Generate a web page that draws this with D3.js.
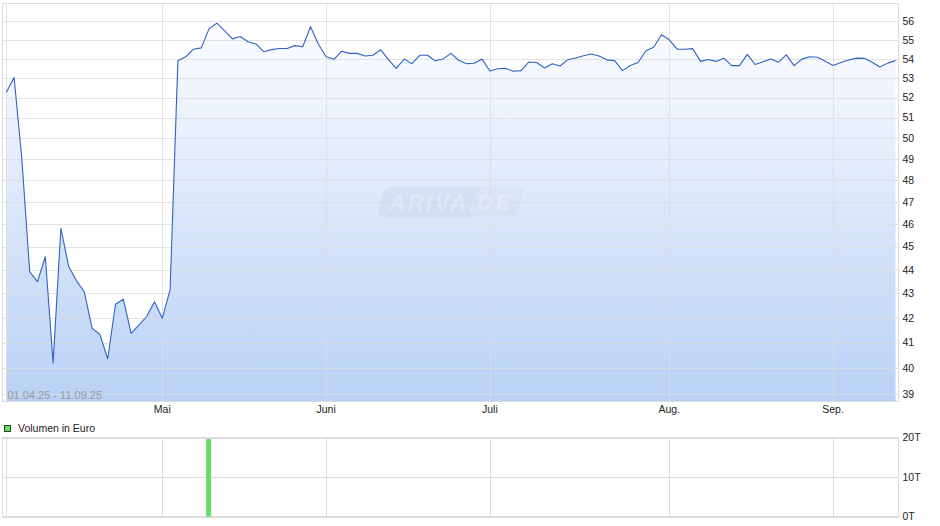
<!DOCTYPE html>
<html>
<head>
<meta charset="utf-8">
<script src="https://cdn.jsdelivr.net/npm/d3@7"></script>
<style>
  html, body { margin: 0; padding: 0; background: #fff; }
  svg { display: block; font-family: "Liberation Sans", Arial, sans-serif; }
</style>
</head>
<body>
<svg id="chart" width="940" height="526"></svg>
<script>
// ---- data (trading days 01.04.25 – 11.09.25) ----
const prices = [
  52.26, 53.02, 48.97, 43.91, 43.5, 44.56, 40.2, 45.81, 44.14, 43.53, 43.07, 41.57, 41.33, 40.36, 42.55, 42.76, 41.37, 41.7, 42.05, 42.66, 41.98, 43.15,
  53.9, 54.1, 54.5, 54.57, 55.6, 55.9, 55.48, 55.05, 55.18, 54.9, 54.78, 54.37, 54.48, 54.54, 54.54, 54.69, 54.63, 55.7, 54.78, 54.1,
  53.97, 54.39, 54.28, 54.28, 54.14, 54.18, 54.47, 53.95, 53.5, 53.98, 53.74, 54.18, 54.18, 53.89, 53.99, 54.28, 53.92, 53.74, 53.76, 53.98,
  53.36, 53.48, 53.5, 53.35, 53.38, 53.83, 53.8, 53.52, 53.74, 53.62, 53.95, 54.04, 54.16, 54.25, 54.14, 53.94, 53.9, 53.38, 53.65, 53.8, 54.42, 54.6, 55.27,
  55.0, 54.5, 54.5, 54.53, 53.86, 53.96, 53.86, 54.03, 53.64, 53.64, 54.23, 53.7, 53.84, 53.98, 53.82, 54.2, 53.64, 53.98, 54.1, 54.08, 53.87, 53.65, 53.8, 53.93, 54.03, 54.02, 53.82, 53.57, 53.77, 53.9
];
const monthLabels = ["", "Mai", "Juni", "Juli", "Aug.", "Sep."];
const monthStartIndex = [0, 20, 41, 62, 85, 106];
const priceTicks = [39, 40, 41, 42, 43, 44, 45, 46, 47, 48, 49, 50, 51, 52, 53, 54, 55, 56];
const volumeDayIndex = [26];
const volumeAmount = [19600];
const volumeTicks = [0, 10000, 20000];
const volumeTickLabels = ["0T", "10T", "20T"];
const rangeLabel = "01.04.25 - 11.09.25";
const legendLabel = "Volumen in Euro";

// ---- layout ----
const svg = d3.select("#chart");
const frame = { left: 2.5, right: 898.5, top: 3.5, bottom: 401.5 };
const vol = { top: 437.5, bottom: 516.5 };

const x = d3.scaleLinear().domain([0, prices.length - 1]).range([6.3, 895.5]);
const y = d3.scaleLog().domain([38.74, 57.0]).range([401, 3]);
const yv = d3.scaleLinear().domain([0, 20000]).range([vol.bottom, vol.top]);

const gridColor = "#dcdcdc";
const crisp = v => Math.round(v) + 0.5;

// gradient
const defs = svg.append("defs");
const grad = defs.append("linearGradient").attr("id", "areaGrad")
  .attr("gradientUnits", "userSpaceOnUse").attr("x1", 0).attr("x2", 0).attr("y1", 3).attr("y2", 401);
grad.append("stop").attr("offset", "0%").attr("stop-color", "#ffffff");
grad.append("stop").attr("offset", "100%").attr("stop-color", "#b9d1f6");

// area
const area = d3.area().x((d, i) => x(i)).y0(401).y1(d => y(d));
svg.append("path").datum(prices).attr("d", area).attr("fill", "url(#areaGrad)");

// horizontal grid
svg.append("g").selectAll("line").data(priceTicks).join("line")
  .attr("x1", frame.left).attr("x2", frame.right)
  .attr("y1", d => crisp(y(d))).attr("y2", d => crisp(y(d)))
  .attr("stroke", gridColor).attr("stroke-opacity", 0.8).attr("stroke-width", 1);

// vertical grid (main + volume)
svg.append("g").selectAll("line").data(monthStartIndex).join("line")
  .attr("x1", d => crisp(x(d))).attr("x2", d => crisp(x(d)))
  .attr("y1", frame.top).attr("y2", frame.bottom)
  .attr("stroke", gridColor).attr("stroke-opacity", 0.8);
svg.append("g").selectAll("line").data(monthStartIndex).join("line")
  .attr("x1", d => crisp(x(d))).attr("x2", d => crisp(x(d)))
  .attr("y1", vol.top).attr("y2", vol.bottom)
  .attr("stroke", gridColor);

// frames
svg.append("rect").attr("x", frame.left).attr("y", frame.top)
  .attr("width", frame.right - frame.left).attr("height", frame.bottom - frame.top)
  .attr("fill", "none").attr("stroke", gridColor);
svg.append("rect").attr("x", frame.left).attr("y", vol.top)
  .attr("width", frame.right - frame.left).attr("height", vol.bottom - vol.top)
  .attr("fill", "none").attr("stroke", gridColor);
svg.append("g").selectAll("line").data(volumeTicks).join("line")
  .attr("x1", frame.left).attr("x2", frame.right)
  .attr("y1", d => crisp(yv(d))).attr("y2", d => crisp(yv(d)))
  .attr("stroke", gridColor);

// watermark
const wm = svg.append("g").attr("transform", "translate(451,202)");
wm.append("rect").attr("x", -70).attr("y", -15).attr("width", 140).attr("height", 30).attr("rx", 7)
  .attr("transform", "skewX(-14)").attr("fill", "#b4c6e0").attr("fill-opacity", 0.22);
wm.append("rect").attr("x", 22).attr("y", -15).attr("width", 48).attr("height", 30).attr("rx", 7)
  .attr("transform", "skewX(-14)").attr("fill", "#ffffff").attr("fill-opacity", 0.12);
wm.append("text").attr("x", 0).attr("y", 8).attr("text-anchor", "middle")
  .attr("font-size", 22).attr("font-weight", "bold").attr("font-style", "italic")
  .attr("letter-spacing", 2.5)
  .attr("fill", "#ffffff").attr("fill-opacity", 0.3).text("ARIVA.DE");

// price line
const line = d3.line().x((d, i) => x(i)).y(d => y(d));
svg.append("path").datum(prices).attr("d", line)
  .attr("fill", "none").attr("stroke", "#2f62c4").attr("stroke-width", 1.1).attr("stroke-linejoin", "round");

// range label
svg.append("text").attr("x", 7.5).attr("y", 398.5).attr("font-size", 11)
  .attr("fill", "#9a9a9a").text(rangeLabel);

// y-axis labels
svg.append("g").selectAll("text").data(priceTicks).join("text")
  .attr("x", 902.5).attr("y", d => y(d)).attr("dy", "0.36em")
  .attr("font-size", 10.5).attr("fill", "#222").text(d => String(d));

// month labels
svg.append("g").selectAll("text").data(monthStartIndex).join("text")
  .attr("x", d => x(d)).attr("y", 413).attr("text-anchor", "middle")
  .attr("font-size", 10.5).attr("fill", "#222").text((d, i) => monthLabels[i]);

// legend
svg.append("rect").attr("x", 4.5).attr("y", 425.5).attr("width", 6).attr("height", 6)
  .attr("fill", "#66dd66").attr("stroke", "#1d4d1d").attr("stroke-width", 1);
svg.append("text").attr("x", 18).attr("y", 432).attr("font-size", 10.5).attr("fill", "#222").text(legendLabel);

// volume bars
const volData = volumeDayIndex.map((d, i) => ({ idx: d, v: volumeAmount[i] }));
svg.append("g").selectAll("rect").data(volData).join("rect")
  .attr("x", d => x(d.idx) - 3).attr("width", 5)
  .attr("y", d => yv(d.v)).attr("height", d => yv(0) - yv(d.v))
  .attr("fill", "#66dd66");

// volume labels
svg.append("g").selectAll("text").data(volumeTicks).join("text")
  .attr("x", 902.5).attr("y", d => yv(d)).attr("dy", "0.36em")
  .attr("font-size", 10.5).attr("fill", "#222").text((d, i) => volumeTickLabels[i]);
</script>
</body>
</html>
